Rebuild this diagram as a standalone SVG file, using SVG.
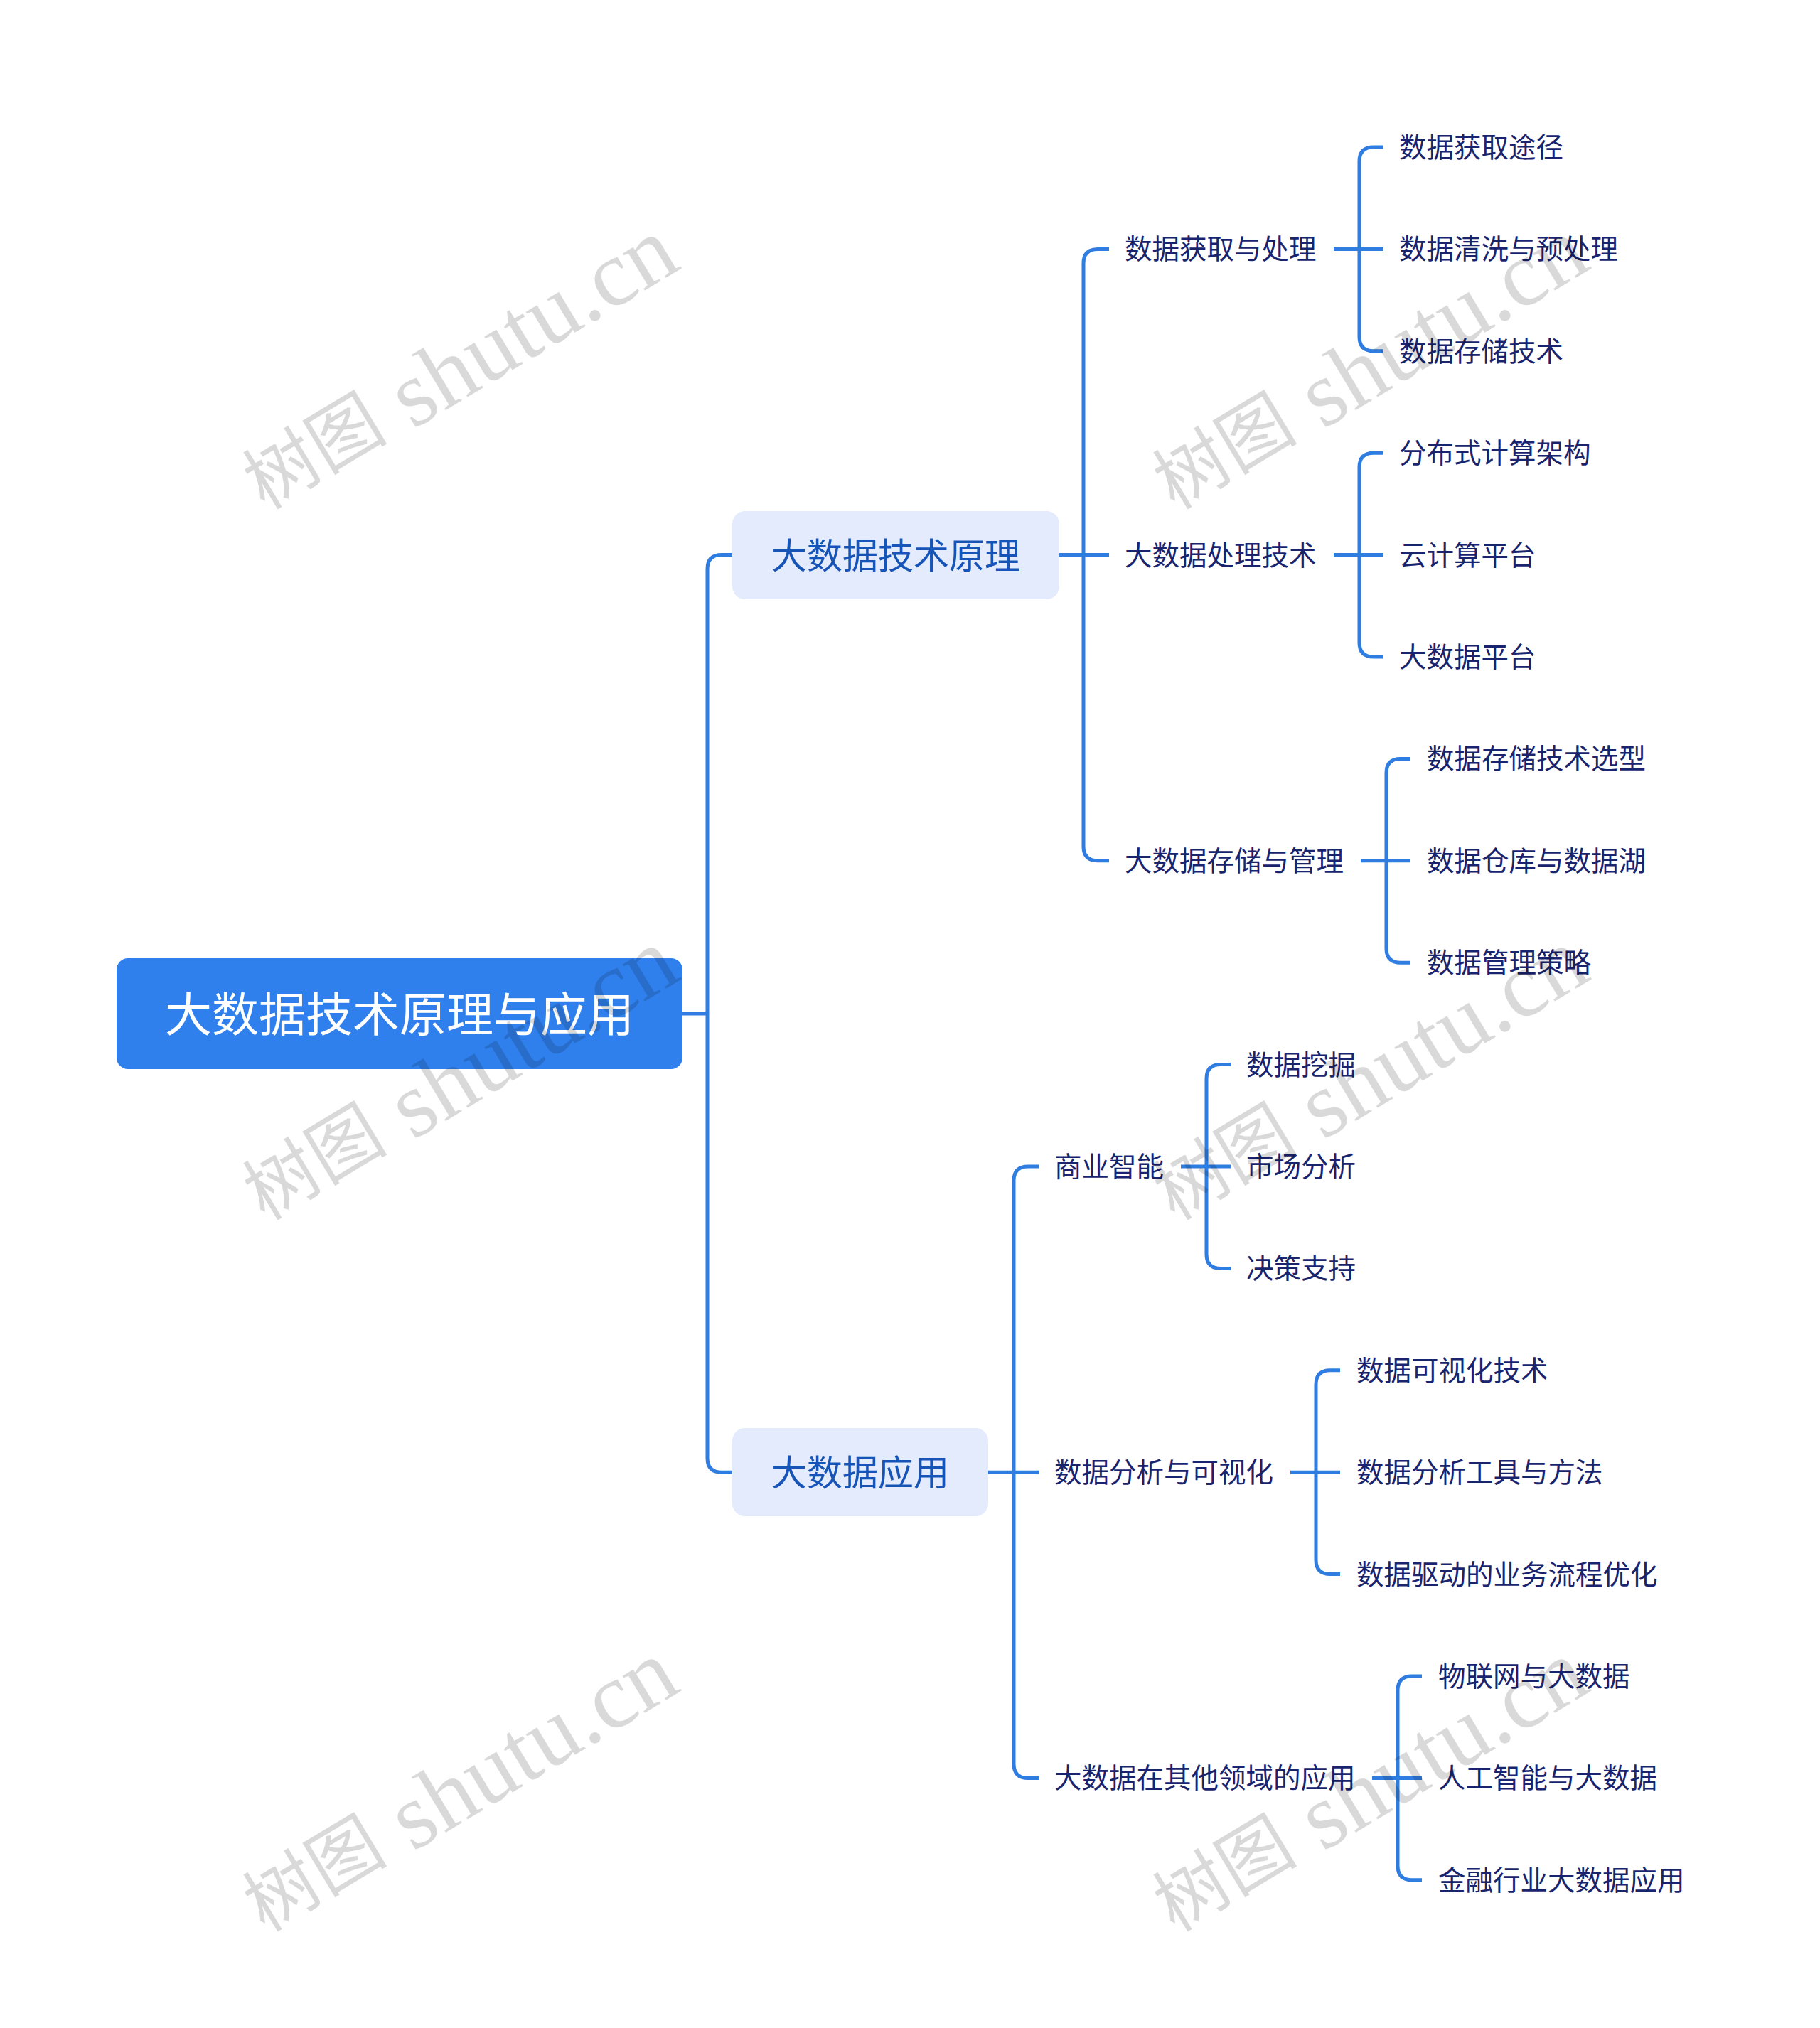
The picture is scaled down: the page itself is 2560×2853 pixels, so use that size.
<svg xmlns="http://www.w3.org/2000/svg" width="2560" height="2853" viewBox="0 0 2560 2853">
<style>
.conn{fill:none;stroke:#2F7DE1;stroke-width:5;stroke-linecap:butt;stroke-linejoin:round}
.t{font-family:"Noto Sans CJK SC","Noto Sans",sans-serif;dominant-baseline:central}
.leaf{font-size:38.5px;fill:#18246E}
.l1{font-size:50px;fill:#1654B8;text-anchor:middle}
.root{font-size:66px;fill:#FFFFFF;text-anchor:middle}
.wm{font-family:"Liberation Serif","Noto Sans CJK SC",serif;fill:#000;fill-opacity:0.15;text-anchor:middle;dominant-baseline:central}
.wc{font-size:102px}
.wl{font-size:132px}
</style>
<rect width="2560" height="2853" fill="#FFFFFF"/>
<g id="connectors">
<path class="conn" d="M960,1426 H995"/>
<path class="conn" d="M1030,780.6 H1015 Q995,780.6 995,800.6 V2051.2 Q995,2071.2 1015,2071.2 H1030"/>
<path class="conn" d="M1490,780.6 H1560"/>
<path class="conn" d="M1560,350.4 H1544 Q1524,350.4 1524,370.4 V1190.8 Q1524,1210.8 1544,1210.8 H1560"/>
<path class="conn" d="M1390,2071.2 H1461"/>
<path class="conn" d="M1461,1641 H1446 Q1426,1641 1426,1661 V2481.4 Q1426,2501.4 1446,2501.4 H1461"/>
<path class="conn" d="M1876,350.4 H1946"/>
<path class="conn" d="M1946,207 H1932 Q1912,207 1912,227 V473.8 Q1912,493.8 1932,493.8 H1946"/>
<path class="conn" d="M1876,780.6 H1946"/>
<path class="conn" d="M1946,637.2 H1932 Q1912,637.2 1912,657.2 V904 Q1912,924 1932,924 H1946"/>
<path class="conn" d="M1914,1210.8 H1984"/>
<path class="conn" d="M1984,1067.4 H1970 Q1950,1067.4 1950,1087.4 V1334.2 Q1950,1354.2 1970,1354.2 H1984"/>
<path class="conn" d="M1661,1641 H1731"/>
<path class="conn" d="M1731,1497.6 H1717 Q1697,1497.6 1697,1517.6 V1764.4 Q1697,1784.4 1717,1784.4 H1731"/>
<path class="conn" d="M1815,2071.2 H1885"/>
<path class="conn" d="M1885,1927.8 H1871 Q1851,1927.8 1851,1947.8 V2194.6 Q1851,2214.6 1871,2214.6 H1885"/>
<path class="conn" d="M1930,2501.4 H2000"/>
<path class="conn" d="M2000,2358 H1986 Q1966,2358 1966,2378 V2624.8 Q1966,2644.8 1986,2644.8 H2000"/>
</g>
<g id="root">
<rect x="164" y="1348" width="796" height="156" rx="16" fill="#2F80ED"/>
<text class="t root" x="562" y="1422">大数据技术原理与应用</text>
</g>
<g id="n-principle">
<rect x="1030" y="719" width="460" height="124" rx="18" fill="#E3EBFC"/>
<text class="t l1" x="1260" y="778">大数据技术原理</text>
</g>
<g id="n-application">
<rect x="1030" y="2009" width="360" height="124" rx="18" fill="#E3EBFC"/>
<text class="t l1" x="1210" y="2068">大数据应用</text>
</g>
<g id="n-a1"><text class="t leaf" x="1582" y="347.4">数据获取与处理</text></g>
<g id="n-a2"><text class="t leaf" x="1582" y="777.6">大数据处理技术</text></g>
<g id="n-a3"><text class="t leaf" x="1582" y="1207.8">大数据存储与管理</text></g>
<g id="n-b1"><text class="t leaf" x="1483" y="1638">商业智能</text></g>
<g id="n-b2"><text class="t leaf" x="1483" y="2068.2">数据分析与可视化</text></g>
<g id="n-b3"><text class="t leaf" x="1483" y="2498.4">大数据在其他领域的应用</text></g>
<g id="n-a1-1"><text class="t leaf" x="1968" y="204">数据获取途径</text></g>
<g id="n-a1-2"><text class="t leaf" x="1968" y="347.4">数据清洗与预处理</text></g>
<g id="n-a1-3"><text class="t leaf" x="1968" y="490.8">数据存储技术</text></g>
<g id="n-a2-1"><text class="t leaf" x="1968" y="634.2">分布式计算架构</text></g>
<g id="n-a2-2"><text class="t leaf" x="1968" y="777.6">云计算平台</text></g>
<g id="n-a2-3"><text class="t leaf" x="1968" y="921">大数据平台</text></g>
<g id="n-a3-1"><text class="t leaf" x="2007" y="1064.4">数据存储技术选型</text></g>
<g id="n-a3-2"><text class="t leaf" x="2007" y="1207.8">数据仓库与数据湖</text></g>
<g id="n-a3-3"><text class="t leaf" x="2007" y="1351.2">数据管理策略</text></g>
<g id="n-b1-1"><text class="t leaf" x="1753" y="1494.6">数据挖掘</text></g>
<g id="n-b1-2"><text class="t leaf" x="1753" y="1638">市场分析</text></g>
<g id="n-b1-3"><text class="t leaf" x="1753" y="1781.4">决策支持</text></g>
<g id="n-b2-1"><text class="t leaf" x="1908" y="1924.8">数据可视化技术</text></g>
<g id="n-b2-2"><text class="t leaf" x="1908" y="2068.2">数据分析工具与方法</text></g>
<g id="n-b2-3"><text class="t leaf" x="1908" y="2211.6">数据驱动的业务流程优化</text></g>
<g id="n-b3-1"><text class="t leaf" x="2023" y="2355">物联网与大数据</text></g>
<g id="n-b3-2"><text class="t leaf" x="2023" y="2498.4">人工智能与大数据</text></g>
<g id="n-b3-3"><text class="t leaf" x="2023" y="2641.8">金融行业大数据应用</text></g>
<g id="watermarks">
<text class="wm" transform="translate(646,513) rotate(-31)"><tspan class="wc">树图</tspan><tspan class="wl"> shutu.cn</tspan></text>
<text class="wm" transform="translate(1926,513) rotate(-31)"><tspan class="wc">树图</tspan><tspan class="wl"> shutu.cn</tspan></text>
<text class="wm" transform="translate(646,1513) rotate(-31)"><tspan class="wc">树图</tspan><tspan class="wl"> shutu.cn</tspan></text>
<text class="wm" transform="translate(1926,1513) rotate(-31)"><tspan class="wc">树图</tspan><tspan class="wl"> shutu.cn</tspan></text>
<text class="wm" transform="translate(646,2514) rotate(-31)"><tspan class="wc">树图</tspan><tspan class="wl"> shutu.cn</tspan></text>
<text class="wm" transform="translate(1926,2514) rotate(-31)"><tspan class="wc">树图</tspan><tspan class="wl"> shutu.cn</tspan></text>
</g>
</svg>
